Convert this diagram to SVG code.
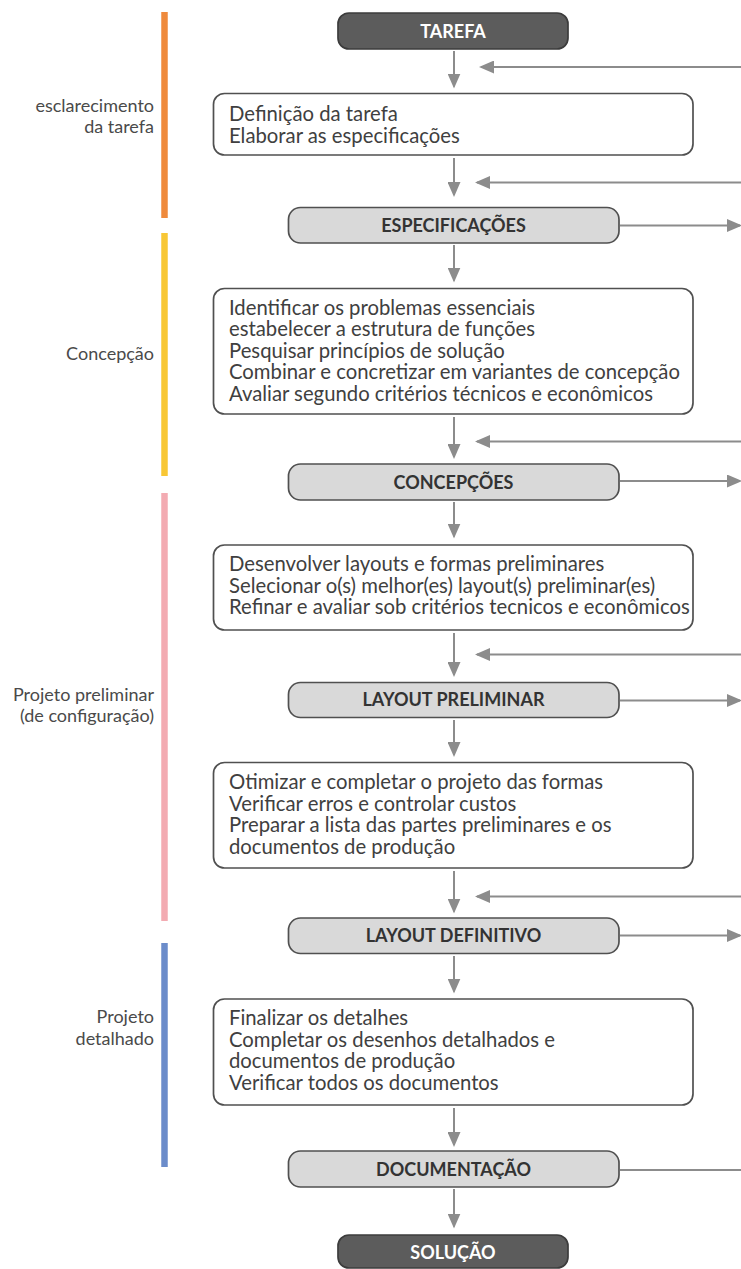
<svg xmlns="http://www.w3.org/2000/svg" width="741" height="1269" viewBox="0 0 741 1269">
  <style>
    .bg { fill: #ffffff; }
    .phase { stroke-width: 6.5; stroke-linecap: butt; }
    .lbl { font-family: Lato, "Open Sans", sans-serif; font-size: 18px; fill: #4a4a4a; text-anchor: end; }
    .step { fill: #ffffff; stroke: #505050; stroke-width: 1.7; }
    .res { fill: #d9d9d9; stroke: #505050; stroke-width: 1.7; }
    .term { fill: #5c5c5c; stroke: #3c3c3c; stroke-width: 1.7; }
    .txt { font-family: Lato, "Open Sans", sans-serif; font-size: 20.3px; fill: #404040; }
    .rt { font-family: Lato, "Open Sans", sans-serif; font-size: 18px; font-weight: bold; fill: #333333; text-anchor: middle; }
    .tt { font-family: Lato, "Open Sans", sans-serif; font-size: 18px; font-weight: bold; fill: #ffffff; text-anchor: middle; }
    .con { stroke: #8c8c8c; stroke-width: 2; fill: none; }
  </style>
  <defs>
    <marker id="head" markerUnits="userSpaceOnUse" markerWidth="16" markerHeight="13" refX="13" refY="6.5" orient="auto">
      <path d="M0,0 L15,6.5 L0,13 z" fill="#8c8c8c"/>
    </marker>
  </defs>
  <rect class="bg" x="0" y="0" width="741" height="1269"/>

  <!-- phase bars and their labels -->
  <g id="phase-esclarecimento">
    <line class="phase" x1="164.5" y1="12" x2="164.5" y2="218" stroke="#ef8a3c"/>
    <text class="lbl" x="154" y="111.5">esclarecimento</text>
    <text class="lbl" x="154" y="133">da tarefa</text>
  </g>
  <g id="phase-concepcao">
    <line class="phase" x1="164.5" y1="233" x2="164.5" y2="476" stroke="#f8c735"/>
    <text class="lbl" x="154" y="360">Concepção</text>
  </g>
  <g id="phase-preliminar">
    <line class="phase" x1="164.5" y1="493" x2="164.5" y2="921" stroke="#f3abb2"/>
    <text class="lbl" x="154" y="701">Projeto preliminar</text>
    <text class="lbl" x="154" y="722">(de configuração)</text>
  </g>
  <g id="phase-detalhado">
    <line class="phase" x1="164.5" y1="943" x2="164.5" y2="1167" stroke="#6b8cca"/>
    <text class="lbl" x="154" y="1023">Projeto</text>
    <text class="lbl" x="154" y="1045">detalhado</text>
  </g>

  <!-- connectors -->
  <g id="connectors">
    <!-- main flow, downwards -->
    <line class="con" x1="454" y1="51" x2="454" y2="86.5" marker-end="url(#head)"/>
    <line class="con" x1="454" y1="158" x2="454" y2="195" marker-end="url(#head)"/>
    <line class="con" x1="454" y1="245" x2="454" y2="280.5" marker-end="url(#head)"/>
    <line class="con" x1="454" y1="417" x2="454" y2="457" marker-end="url(#head)"/>
    <line class="con" x1="454" y1="502" x2="454" y2="536.5" marker-end="url(#head)"/>
    <line class="con" x1="454" y1="633" x2="454" y2="675" marker-end="url(#head)"/>
    <line class="con" x1="454" y1="720" x2="454" y2="755" marker-end="url(#head)"/>
    <line class="con" x1="454" y1="871" x2="454" y2="911.5" marker-end="url(#head)"/>
    <line class="con" x1="454" y1="956" x2="454" y2="991.5" marker-end="url(#head)"/>
    <line class="con" x1="454" y1="1108" x2="454" y2="1145" marker-end="url(#head)"/>
    <line class="con" x1="454" y1="1189" x2="454" y2="1226.5" marker-end="url(#head)"/>
    <!-- returns entering from the right -->
    <line class="con" x1="741" y1="67" x2="481" y2="67" marker-end="url(#head)"/>
    <line class="con" x1="741" y1="182.5" x2="477" y2="182.5" marker-end="url(#head)"/>
    <line class="con" x1="741" y1="441.5" x2="477" y2="441.5" marker-end="url(#head)"/>
    <line class="con" x1="741" y1="654.5" x2="477" y2="654.5" marker-end="url(#head)"/>
    <line class="con" x1="741" y1="896.5" x2="477" y2="896.5" marker-end="url(#head)"/>
    <!-- outputs leaving to the right -->
    <line class="con" x1="620" y1="225.5" x2="740" y2="225.5" marker-end="url(#head)"/>
    <line class="con" x1="620" y1="481" x2="740" y2="481" marker-end="url(#head)"/>
    <line class="con" x1="620" y1="700.5" x2="740" y2="700.5" marker-end="url(#head)"/>
    <line class="con" x1="620" y1="935.5" x2="740" y2="935.5" marker-end="url(#head)"/>
    <line class="con" x1="620" y1="1170" x2="741" y2="1170"/>
  </g>

  <!-- nodes -->
  <g id="tarefa">
    <rect class="term" x="338" y="13" width="230" height="36" rx="11"/>
    <text class="tt" x="453" y="37.5">TAREFA</text>
  </g>
  <g id="definicao">
    <rect class="step" x="213.5" y="93.5" width="479.5" height="61.5" rx="11"/>
    <text class="txt" x="229" y="120.5">Definição da tarefa</text>
    <text class="txt" x="229" y="142.5">Elaborar as especificações</text>
  </g>
  <g id="especificacoes">
    <rect class="res" x="288.5" y="207.5" width="330.5" height="35.5" rx="12"/>
    <text class="rt" x="453.5" y="231.5">ESPECIFICAÇÕES</text>
  </g>
  <g id="concepcao-passos">
    <rect class="step" x="213.5" y="288.5" width="479.5" height="125.5" rx="11"/>
    <text class="txt" x="229" y="314.5">Identificar os problemas essenciais</text>
    <text class="txt" x="229" y="336">estabelecer a estrutura de funções</text>
    <text class="txt" x="229" y="357.5">Pesquisar princípios de solução</text>
    <text class="txt" x="229" y="379">Combinar e concretizar em variantes de concepção</text>
    <text class="txt" x="229" y="400.5">Avaliar segundo critérios técnicos e econômicos</text>
  </g>
  <g id="concepcoes">
    <rect class="res" x="288.5" y="464" width="330.5" height="36" rx="12"/>
    <text class="rt" x="453.5" y="488.5">CONCEPÇÕES</text>
  </g>
  <g id="preliminar-passos">
    <rect class="step" x="213.5" y="545" width="479.5" height="85" rx="11"/>
    <text class="txt" x="229" y="570.5">Desenvolver layouts e formas preliminares</text>
    <text class="txt" x="229" y="592.5">Selecionar o(s) melhor(es) layout(s) preliminar(es)</text>
    <text class="txt" x="229" y="614">Refinar e avaliar sob critérios tecnicos e econômicos</text>
  </g>
  <g id="layout-preliminar">
    <rect class="res" x="288.5" y="682.5" width="330.5" height="35" rx="12"/>
    <text class="rt" x="453.5" y="706">LAYOUT PRELIMINAR</text>
  </g>
  <g id="definitivo-passos">
    <rect class="step" x="213.5" y="762.5" width="479.5" height="105.5" rx="11"/>
    <text class="txt" x="229" y="789">Otimizar e completar o projeto das formas</text>
    <text class="txt" x="229" y="810.5">Verificar erros e controlar custos</text>
    <text class="txt" x="229" y="832">Preparar a lista das partes preliminares e os</text>
    <text class="txt" x="229" y="854">documentos de produção</text>
  </g>
  <g id="layout-definitivo">
    <rect class="res" x="288.5" y="918" width="330.5" height="35.5" rx="12"/>
    <text class="rt" x="453.5" y="942">LAYOUT DEFINITIVO</text>
  </g>
  <g id="detalhado-passos">
    <rect class="step" x="213.5" y="999" width="479.5" height="106" rx="11"/>
    <text class="txt" x="229" y="1024.5">Finalizar os detalhes</text>
    <text class="txt" x="229" y="1046.5">Completar os desenhos detalhados e</text>
    <text class="txt" x="229" y="1068">documentos de produção</text>
    <text class="txt" x="229" y="1090">Verificar todos os documentos</text>
  </g>
  <g id="documentacao">
    <rect class="res" x="288.5" y="1151" width="330.5" height="36" rx="12"/>
    <text class="rt" x="453.5" y="1175.5">DOCUMENTAÇÃO</text>
  </g>
  <g id="solucao">
    <rect class="term" x="338" y="1235" width="230" height="33" rx="11"/>
    <text class="tt" x="453" y="1258.5">SOLUÇÃO</text>
  </g>
</svg>
